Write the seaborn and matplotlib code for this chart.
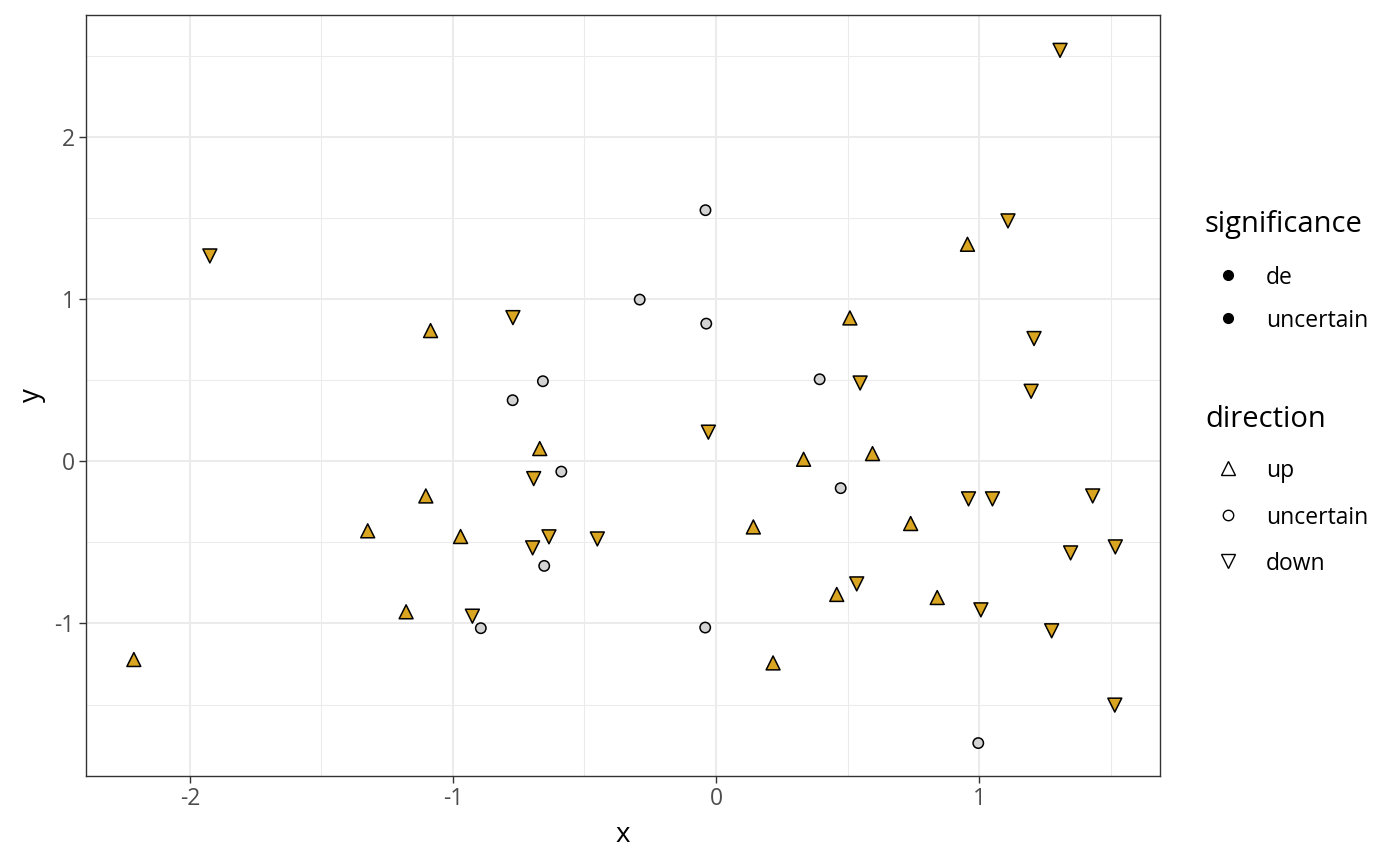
import matplotlib
matplotlib.use("Agg")
import matplotlib.pyplot as plt
from matplotlib.lines import Line2D
from matplotlib.ticker import MultipleLocator
import seaborn as sns
import pandas as pd

# values
up_x = [-0.670, -1.103, -1.324, -0.971, -1.178, -2.213, -1.085, 0.956,
        0.509, 0.595, 0.333, 0.142, 0.740, 0.459, 0.841, 0.217]
up_y = [0.078, -0.214, -0.429, -0.464, -0.928, -1.222, 0.805, 1.337,
        0.883, 0.047, 0.012, -0.405, -0.384, -0.821, -0.840, -1.243]

unc_x = [-0.773, -0.588, -0.653, -0.894, -0.658, -0.040, -0.290, -0.037,
         0.394, 0.474, -0.041, 0.997]
unc_y = [0.376, -0.064, -0.645, -1.029, 0.493, 1.547, 0.996, 0.848,
         0.505, -0.166, -1.025, -1.737]

down_x = [-0.693, -0.635, -0.451, -0.697, -0.926, -1.924, -0.772, 1.308,
          1.110, 1.209, 0.548, 1.198, -0.029, 0.960, 1.051, 1.432,
          1.348, 1.518, 0.535, 1.007, 1.276, 1.516]
down_y = [-0.107, -0.466, -0.479, -0.534, -0.955, 1.265, 0.885, 2.532,
          1.481, 0.756, 0.482, 0.431, 0.179, -0.232, -0.232, -0.214,
          -0.565, -0.528, -0.756, -0.916, -1.045, -1.503]

x_ticks = [-2, -1, 0, 1]
y_ticks = [-1, 0, 1, 2]
sig_levels = ["de", "uncertain"]
dir_levels = ["up", "uncertain", "down"]

df = pd.DataFrame({
    "x": up_x + unc_x + down_x,
    "y": up_y + unc_y + down_y,
    "direction": ["up"] * len(up_x) + ["uncertain"] * len(unc_x) + ["down"] * len(down_x),
})
df["significance"] = ["uncertain" if d == "uncertain" else "de" for d in df["direction"]]

sns.set_style("white")
plt.rcParams["font.family"] = ["Open Sans", "DejaVu Sans"]
plt.rcParams["text.color"] = "black"
plt.rcParams["axes.labelcolor"] = "black"

fill_colors = {"de": "#DAA520", "uncertain": "#D3D3D3"}
markers = {"up": "^", "uncertain": "o", "down": "v"}
sizes = {"up": 100, "uncertain": 56, "down": 100}

fig = plt.figure(figsize=(14, 8.66), dpi=100)
ax = fig.add_axes([0.0614, 0.1039, 0.7672, 0.8788])

for d in dir_levels:
    sub = df[df["direction"] == d]
    sns.scatterplot(data=sub, x="x", y="y", hue="significance", palette=fill_colors,
                    marker=markers[d], s=sizes[d], edgecolor="black", linewidth=1.1,
                    legend=False, ax=ax, zorder=3)

ax.set_xlim(-2.395, 1.688)
ax.set_ylim(-1.94, 2.75)
ax.set_xticks(x_ticks)
ax.set_yticks(y_ticks)
ax.set_xticklabels([str(v) for v in x_ticks])
ax.set_yticklabels([str(v) for v in y_ticks])
ax.xaxis.set_minor_locator(MultipleLocator(0.5))
ax.yaxis.set_minor_locator(MultipleLocator(0.5))
ax.grid(True, which="major", color="#EBEBEB", linewidth=1.45)
ax.grid(True, which="minor", color="#EBEBEB", linewidth=0.75)
ax.set_axisbelow(True)
ax.tick_params(axis="both", which="major", length=5, width=1.0, color="#333333",
               labelsize=16.5, labelcolor="#4D4D4D", pad=3, left=True, bottom=True)
ax.tick_params(which="minor", length=0)
for s in ax.spines.values():
    s.set_color("#333333")
    s.set_linewidth(1.0)
ax.set_xlabel("x", fontsize=20, labelpad=7)
ax.set_ylabel("y", fontsize=20, labelpad=6)


def fx(px):
    return px / 1400


def fy(py):
    return 1 - py / 866


# legends drawn by hand to follow the ggplot guide layout
fig.text(fx(1205), fy(232), "significance", fontsize=21, va="baseline", ha="left")
for lab, py in zip(sig_levels, [275, 318]):
    fig.add_artist(Line2D([fx(1228)], [fy(py)], marker="o", linestyle="",
                          color="black", markersize=7, transform=fig.transFigure))
    fig.text(fx(1266), fy(py), lab, fontsize=16.5, va="center_baseline", ha="left")

fig.text(fx(1205), fy(427), "direction", fontsize=21, va="baseline", ha="left")
for d, py in zip(dir_levels, [468, 515, 561]):
    fig.add_artist(Line2D([fx(1228)], [fy(py)], marker=markers[d], linestyle="",
                          markerfacecolor="none", markeredgecolor="black",
                          markeredgewidth=1.0,
                          markersize=7.5 if d == "uncertain" else 9.5,
                          transform=fig.transFigure))
    fig.text(fx(1266), fy(py), d, fontsize=16.5, va="center_baseline", ha="left")

fig.savefig("out.png", dpi=100)
